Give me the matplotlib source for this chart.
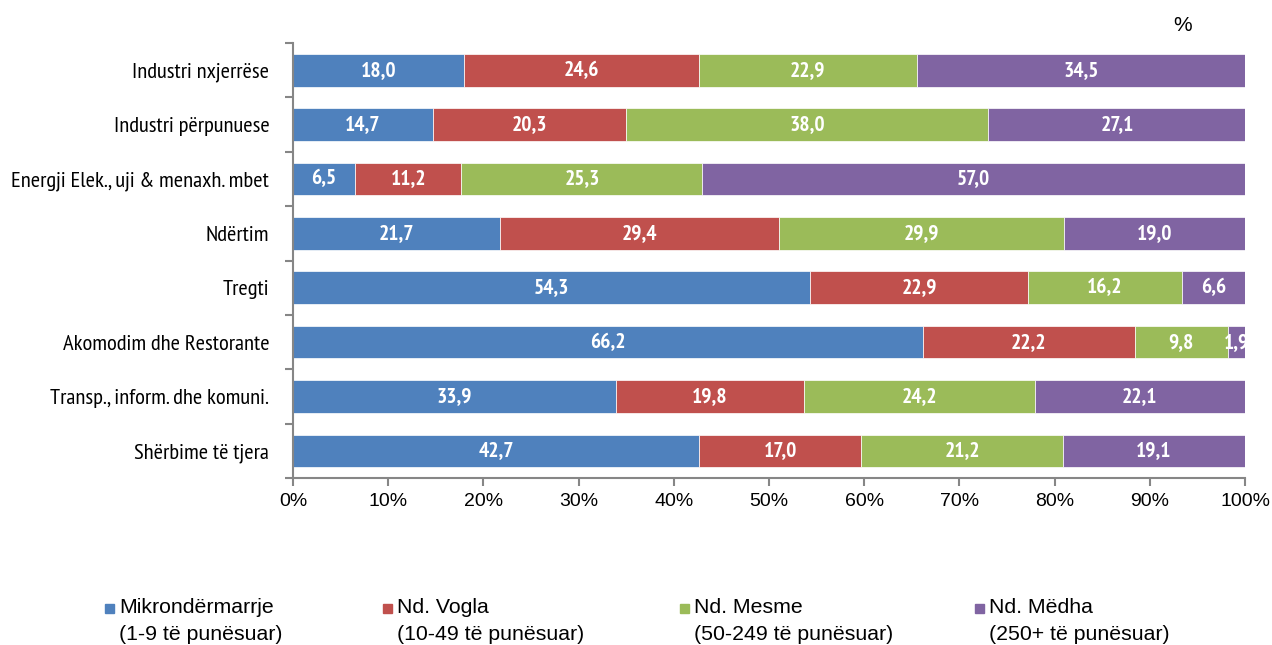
import matplotlib
matplotlib.use("Agg")
import matplotlib.pyplot as plt
from matplotlib import font_manager
from matplotlib.patches import Rectangle
import matplotlib.patheffects as pe
import numpy as np


def wnum(w):
    if isinstance(w, int):
        return w
    return {'bold': 700, 'heavy': 800, 'black': 900, 'semibold': 600,
            'demibold': 600}.get(str(w).lower(), 400)


# the reference uses an Arial Narrow look for category names and bar values
faces = {}
for f in font_manager.fontManager.ttflist:
    if 'Narrow' in f.name or 'Condensed' in f.name:
        faces.setdefault(f.name, set()).add(wnum(f.weight))
narrow_name = None
has_bold = False
for n in sorted(faces, key=lambda n: (max(faces[n]) < 700, 'Narrow' not in n, n)):
    narrow_name = n
    has_bold = max(faces[n]) >= 700
    break

plt.rcParams['font.family'] = ['Liberation Sans', 'DejaVu Sans']
narrow = [narrow_name, 'Liberation Sans', 'DejaVu Sans'] if narrow_name else ['Liberation Sans', 'DejaVu Sans']
nfs = 16.2 if narrow_name else 13

categories = ['Industri nxjerrëse', 'Industri përpunuese', 'Energji Elek., uji & menaxh. mbet',
              'Ndërtim', 'Tregti', 'Akomodim dhe Restorante',
              'Transp., inform. dhe komuni.', 'Shërbime të tjera']
micro = [18.0, 14.7, 6.5, 21.7, 54.3, 66.2, 33.9, 42.7]
small = [24.6, 20.3, 11.2, 29.4, 22.9, 22.2, 19.8, 17.0]
medium = [22.9, 38.0, 25.3, 29.9, 16.2, 9.8, 24.2, 21.2]
large = [34.5, 27.1, 57.0, 19.0, 6.6, 1.9, 22.1, 19.1]
series_labels = ['Mikrondërmarrje\n(1-9 të punësuar)', 'Nd. Vogla\n(10-49 të punësuar)',
                 'Nd. Mesme\n(50-249 të punësuar)', 'Nd. Mëdha\n(250+ të punësuar)']
colors = ['#4F81BD', '#C0504D', '#9BBB59', '#8064A2']

fig = plt.figure(figsize=(12.72, 6.45), dpi=100)
ax = fig.add_axes([0.2303, 0.2589, 0.7485, 0.6744])

fx = [] if has_bold else [pe.withStroke(linewidth=0.9, foreground='white')]

y = np.arange(len(categories))
left = np.zeros(len(categories))
for vals, lab, col in zip([micro, small, medium, large], series_labels, colors):
    vals = np.array(vals)
    ax.barh(y, vals, left=left, height=0.6, color=col, label=lab,
            edgecolor='white', linewidth=0.5)
    for yi, l, v in zip(y, left, vals):
        ax.text(l + v / 2, yi, f"{v:.1f}".replace('.', ','), ha='center', va='center',
                color='white', fontsize=15.5, fontweight='bold', family=narrow,
                path_effects=fx)
    left += vals

ax.set_xlim(0, 100)
ax.set_ylim(len(categories) - 0.5, -0.5)
ax.set_xticks(np.arange(0, 101, 10))
ax.set_xticklabels([f"{t}%" for t in range(0, 101, 10)], fontsize=14)
ax.set_yticks(y)
ax.set_yticklabels(categories, fontsize=nfs, family=narrow)
ax.set_yticks(np.arange(-0.5, len(categories), 1), minor=True)
ax.tick_params(axis='y', which='major', length=0, pad=17)
ax.tick_params(axis='y', which='minor', length=6, color='#868686', width=1.5)
ax.tick_params(axis='x', length=6, color='#868686', width=1.5, pad=5)
for s in ['top', 'right']:
    ax.spines[s].set_visible(False)
for s in ['left', 'bottom']:
    ax.spines[s].set_color('#868686')
    ax.spines[s].set_linewidth(1.5)

fig.text(0.930, 0.960, '%', fontsize=15, ha='center', va='center')

# legend, laid out by hand like the original
leg_x = [105, 383, 680, 975]
W, H = 1272, 645
for x0, lab, col in zip(leg_x, series_labels, colors):
    fig.patches.append(Rectangle((x0 / W, 1 - 613 / H), 9 / W, 9 / H,
                                 transform=fig.transFigure, color=col))
    fig.text((x0 + 14) / W, 1 - 598 / H, lab, fontsize=15.3, ha='left', va='top',
             linespacing=1.5)

fig.savefig('out.png', dpi=100)
